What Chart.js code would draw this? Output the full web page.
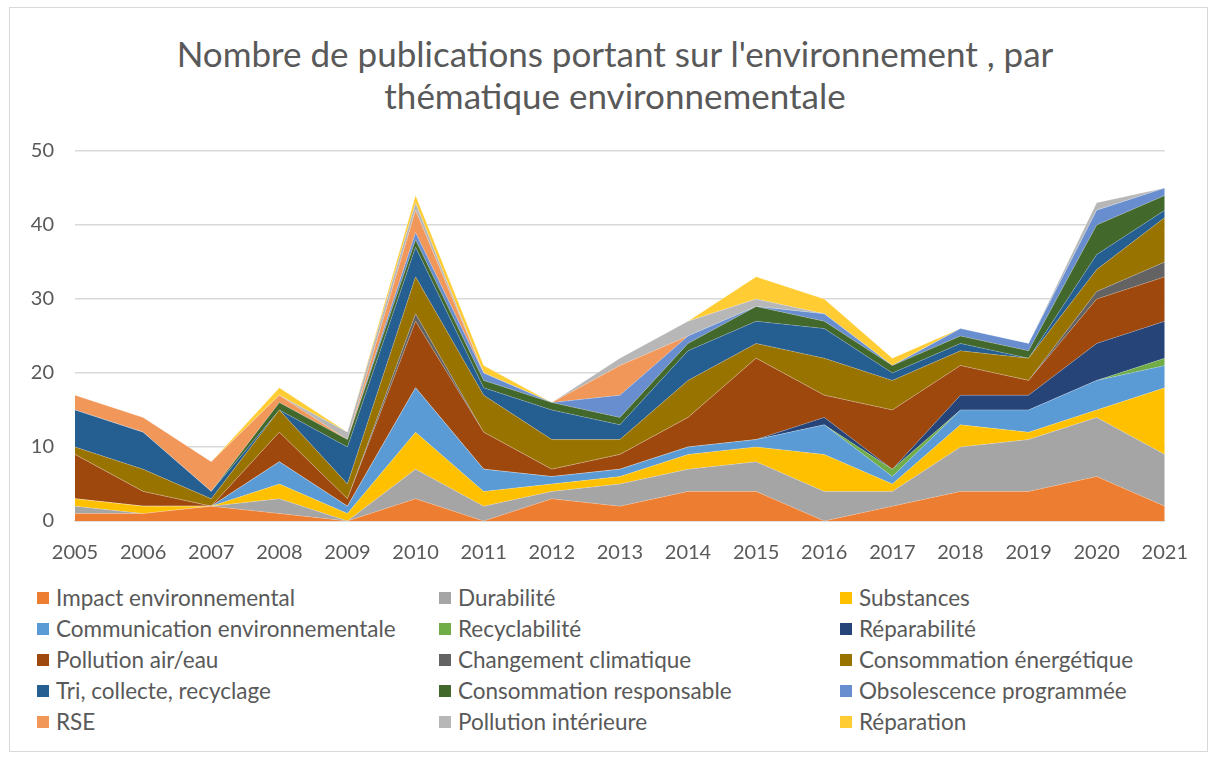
<!DOCTYPE html>
<html>
<head>
<meta charset="utf-8">
<script src="https://cdn.jsdelivr.net/npm/chart.js@4"></script>
<style>
  body { margin: 0; background: #fff; font-family: Lato, sans-serif; }
  .frame {
    position: absolute; left: 9px; top: 7px; width: 1199px; height: 745px;
    border: 1px solid #d9d9d9; box-sizing: border-box;
  }
  .title {
    position: absolute; left: 0; top: 32px; width: 1230px;
    text-align: center; color: #595959; font-size: 35px; line-height: 42px;
  }
  .chart-box { position: absolute; left: 10px; top: 8px; width: 1198px; height: 570px; }
  .legend {
    position: absolute; left: 37px; top: 582px;
    display: grid; grid-template-columns: 402px 401px 340px;
    grid-auto-rows: 31px; color: #595959; font-size: 22.5px;
  }
  .legend span { display: flex; align-items: center; white-space: nowrap; }
  .legend i { display: inline-block; width: 12px; height: 12px; margin-right: 7px; }
</style>
</head>
<body>
<div class="frame"></div>
<div class="title">Nombre de publications portant sur l'environnement , par<br>thématique environnementale</div>
<div class="chart-box"><canvas class="area-chart"></canvas></div>
<div class="legend"></div>
<script>
// general variables
let font = { size: 20, family: "Lato" };
let textColor = "#595959";

// ! data
let years = ["2005", "2006", "2007", "2008", "2009", "2010", "2011", "2012", "2013",
  "2014", "2015", "2016", "2017", "2018", "2019", "2020", "2021"];
let yTicks = [0, 10, 20, 30, 40, 50];

let impact = [1, 1, 2, 1, 0, 3, 0, 3, 2, 4, 4, 0, 2, 4, 4, 6, 2];
let durabilite = [1, 0, 0, 2, 0, 4, 2, 1, 3, 3, 4, 4, 2, 6, 7, 8, 7];
let substances = [1, 1, 0, 2, 1, 5, 2, 1, 1, 2, 2, 5, 1, 3, 1, 1, 9];
let communication = [0, 0, 0, 3, 1, 6, 3, 1, 1, 1, 1, 4, 1, 2, 3, 4, 3];
let recyclabilite = [0, 0, 0, 0, 0, 0, 0, 0, 0, 0, 0, 0, 1, 0, 0, 0, 1];
let reparabilite = [0, 0, 0, 0, 0, 0, 0, 0, 0, 0, 0, 1, 0, 2, 2, 5, 5];
let pollutionAirEau = [6, 2, 0, 4, 1, 9, 5, 1, 2, 4, 11, 3, 8, 4, 2, 6, 6];
let changementClimatique = [0, 0, 0, 0, 0, 1, 0, 0, 0, 0, 0, 0, 0, 0, 0, 1, 2];
let consoEnergetique = [1, 3, 1, 3, 2, 5, 5, 4, 2, 5, 2, 5, 4, 2, 3, 3, 6];
let triCollecte = [5, 5, 1, 0, 5, 4, 1, 4, 2, 4, 3, 4, 1, 1, 0, 2, 1];
let consoResponsable = [0, 0, 0, 1, 1, 1, 1, 1, 1, 1, 2, 1, 1, 1, 1, 4, 2];
let obsolescence = [0, 0, 0, 0, 0, 1, 1, 0, 3, 1, 0, 1, 0, 1, 1, 2, 1];
let rse = [2, 2, 4, 1, 0, 3, 0, 0, 4, 0, 0, 0, 0, 0, 0, 0, 0];
let pollutionInterieure = [0, 0, 0, 0, 1, 1, 0, 0, 1, 2, 1, 0, 0, 0, 0, 1, 0];
let reparation = [0, 0, 0, 1, 0, 1, 1, 0, 0, 0, 3, 2, 1, 0, 0, 0, 0];

let series = [
  ["Impact environnemental", impact, "#ED7D31"],
  ["Durabilité", durabilite, "#A5A5A5"],
  ["Substances", substances, "#FFC000"],
  ["Communication environnementale", communication, "#5B9BD5"],
  ["Recyclabilité", recyclabilite, "#70AD47"],
  ["Réparabilité", reparabilite, "#264478"],
  ["Pollution air/eau", pollutionAirEau, "#9E480E"],
  ["Changement climatique", changementClimatique, "#636363"],
  ["Consommation énergétique", consoEnergetique, "#997300"],
  ["Tri, collecte, recyclage", triCollecte, "#255E91"],
  ["Consommation responsable", consoResponsable, "#43682B"],
  ["Obsolescence programmée", obsolescence, "#698ED0"],
  ["RSE", rse, "#F1975A"],
  ["Pollution intérieure", pollutionInterieure, "#B7B7B7"],
  ["Réparation", reparation, "#FFCD33"],
];

// ! area chart
let areaChart = document.querySelector(".area-chart");
let chart = new Chart(areaChart, {
  type: "line",
  options: {
    maintainAspectRatio: false,
    animation: false,
    layout: {
      // title is html, so the top padding leaves room for it
      padding: { top: 143, right: 34 },
    },
    elements: {
      point: { radius: 0 },
      line: { tension: 0 },
    },
    plugins: {
      legend: { display: false },
      tooltip: { enabled: false },
    },
    scales: {
      x: {
        grid: { display: false, drawTicks: false },
        border: { display: true, color: "#d9d9d9", width: 1.5 },
        ticks: { font: font, color: textColor, padding: 20, maxRotation: 0 },
        afterFit: (scale) => { scale.height = 57; },
      },
      y: {
        stacked: true,
        min: 0,
        max: 50,
        grid: { color: "#d9d9d9", lineWidth: 1.5, drawTicks: false },
        border: { display: false },
        afterBuildTicks: (scale) => { scale.ticks = yTicks.map((v) => ({ value: v })); },
        ticks: { font: font, color: textColor, padding: 21 },
        afterFit: (scale) => { scale.width = 65; },
      },
    },
  },
  data: {
    labels: years,
    datasets: series.map(([label, data, color], i) => ({
      label: label,
      data: data,
      backgroundColor: color,
      borderColor: "rgba(255,255,255,0.35)",
      borderWidth: 0.6,
      fill: i === 0 ? "origin" : "-1",
    })),
  },
});

// html legend, 3 columns like the original
let legendBox = document.querySelector(".legend");
chart.data.datasets.forEach((ds) => {
  let item = document.createElement("span");
  item.innerHTML = '<i style="background:' + ds.backgroundColor + '"></i>' + ds.label;
  legendBox.appendChild(item);
});
</script>
</body>
</html>
